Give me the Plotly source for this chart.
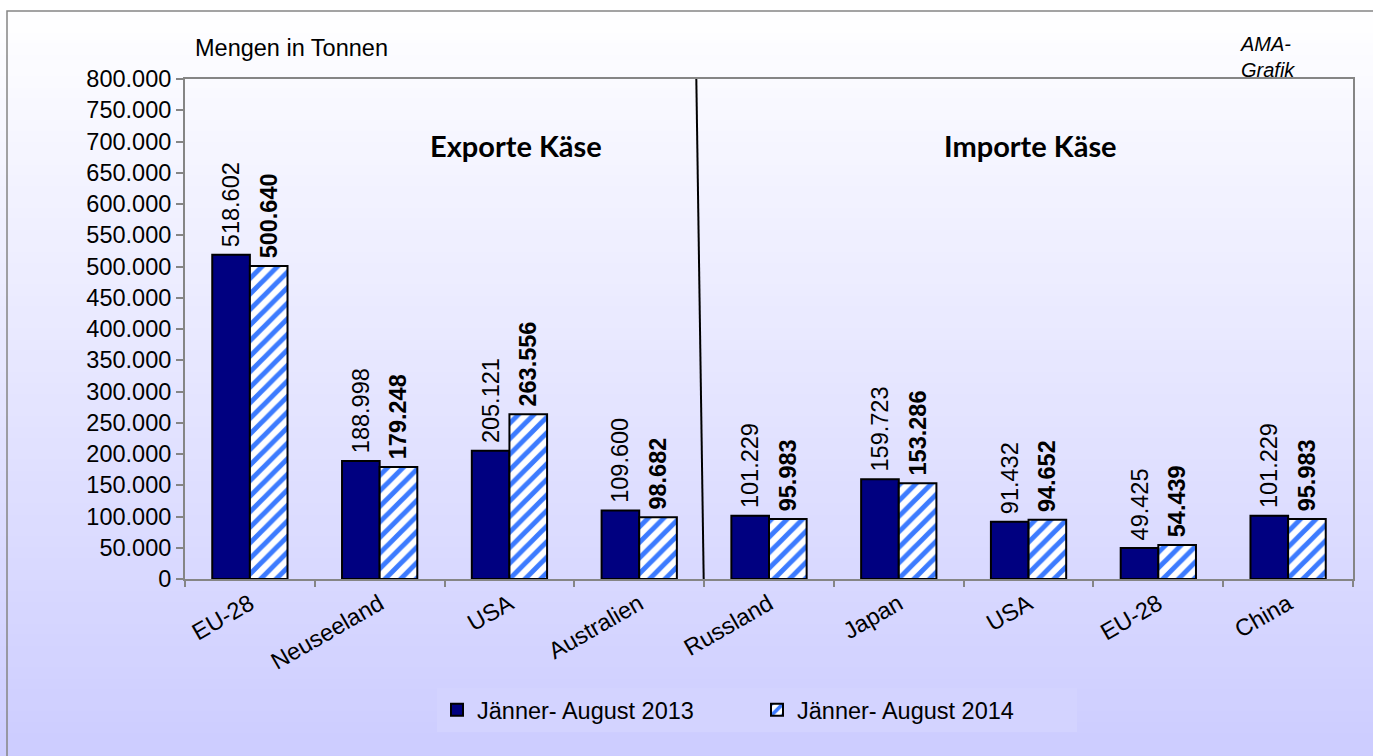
"""
Käse: Exporte / Importe, Jänner-August 2013 vs 2014
"""
import plotly.graph_objects as go

# ── data ────────────────────────────────────────────────
CATS = ["EU-28", "Neuseeland", "USA", "Australien",
        "Russland", "Japan", "USA", "EU-28", "China"]
Y2013 = [518602, 188998, 205121, 109600, 101229, 159723, 91432, 49425, 101229]
Y2014 = [500640, 179248, 263556, 98682, 95983, 153286, 94652, 54439, 95983]
YTICKS = list(range(0, 800001, 50000))
NAME13 = "Jänner- August 2013"
NAME14 = "Jänner- August 2014"

# ── theme ───────────────────────────────────────────────
ARIAL = "Liberation Sans, Arial, sans-serif"
FS = 23.5
NAVY = "#000080"
STRIPE = "#3C7BFF"
GRAY = "#858585"
W, H = 1373, 756
PX0, PX1, PY0, PY1 = 185, 1353, 79, 579   # plot area in pixels
L, T, R, B = PX0, PY0, W - PX1, H - PY1
PW, PH = PX1 - PX0, PY1 - PY0


def px_x(p):   # pixel -> paper
    return (p - PX0) / PW


def px_y(p):
    return (PY1 - p) / PH


def de(v):     # 518602 -> "518.602"
    return f"{v:,}".replace(",", ".")


xs = list(range(len(CATS)))
GAP = "\u2009"   # a bit of air between bar top and rotated label

fig = go.Figure()
fig.add_trace(go.Bar(
    x=xs, y=Y2013, name=NAME13,
    marker=dict(color=NAVY, line=dict(color="black", width=2)),
    text=[GAP + de(v) for v in Y2013], textposition="outside", textangle=-90,
    textfont=dict(family=ARIAL, size=FS, color="black"),
    cliponaxis=False, constraintext="none",
))
fig.add_trace(go.Bar(
    x=xs, y=Y2014, name=NAME14,
    marker=dict(color="white", line=dict(color="black", width=2),
                pattern=dict(shape="/", fgcolor=STRIPE, bgcolor="white",
                             size=11, solidity=0.45, fillmode="replace")),
    text=[f"{GAP}<b>{de(v)}</b>" for v in Y2014], textposition="outside", textangle=-90,
    textfont=dict(family=ARIAL, size=FS, color="black"),
    cliponaxis=False, constraintext="none",
))

# ── background gradient (white -> lavender) + frame ─────
N = 70
for i in range(N):
    f = i / (N - 1)
    c = round(255 - 51 * f)
    fig.add_shape(type="rect", xref="paper", yref="paper",
                  x0=px_x(0), x1=px_x(W + 20),
                  y0=px_y((i + 1) * (H + 10) / N + 1), y1=px_y(i * (H + 10) / N),
                  fillcolor=f"rgb({c},{c},255)", line_width=0, layer="below")

fig.add_shape(type="rect", xref="paper", yref="paper",
              x0=px_x(7), x1=px_x(W + 20), y0=px_y(H + 20), y1=px_y(11),
              line=dict(color=GRAY, width=1.5), layer="below")

# divider between exports and imports
fig.add_shape(type="line", xref="x", yref="y",
              x0=3.44, y0=800000, x1=3.5, y1=-46000,
              line=dict(color="black", width=2))

# ── annotations ─────────────────────────────────────────
fig.add_annotation(text="Mengen in Tonnen", xref="paper", yref="paper",
                   x=px_x(193), y=px_y(48), xanchor="left", yanchor="middle",
                   showarrow=False, font=dict(family=ARIAL, size=FS, color="black"))
fig.add_annotation(text="<i>AMA-<br>Grafik</i>", xref="paper", yref="paper",
                   x=px_x(1238), y=px_y(57), xanchor="left", yanchor="middle",
                   align="left", showarrow=False,
                   font=dict(family=ARIAL, size=20, color="black"))
for label, cx in [("Exporte Käse", 516), ("Importe Käse", 1030)]:
    fig.add_annotation(text=f"<b>{label}</b>", xref="paper", yref="paper",
                       x=px_x(cx), y=px_y(145), xanchor="center", yanchor="middle",
                       showarrow=False, font=dict(family="Lato, sans-serif", size=29, color="black"))

# ── axes & layout ───────────────────────────────────────
fig.update_xaxes(
    range=[-0.5, len(CATS) - 0.5], tickmode="array", tickvals=xs, ticktext=CATS,
    tickangle=-30, ticks="", showline=True, linecolor=GRAY, linewidth=2, mirror=True,
    showgrid=False, zeroline=False,
    tickfont=dict(family=ARIAL, size=FS, color="black"),
    minor=dict(tick0=-0.5, dtick=1, ticks="outside", ticklen=6, tickcolor=GRAY, tickwidth=2),
)
fig.update_yaxes(
    range=[0, 800000], tickmode="array", tickvals=YTICKS,
    ticktext=[de(v) for v in YTICKS],
    ticks="outside", ticklen=7, tickcolor=GRAY, tickwidth=2,
    showline=True, linecolor=GRAY, linewidth=2, mirror=True,
    showgrid=False, zeroline=False,
    tickfont=dict(family=ARIAL, size=FS, color="black"),
)

fig.update_layout(
    width=W, height=H, barmode="group", bargap=0.42, bargroupgap=0,
    margin=dict(l=L, r=R, t=T, b=B, autoexpand=False),
    paper_bgcolor="#CCCCFF", plot_bgcolor="rgba(0,0,0,0)",
    font=dict(family=ARIAL, color="black"),
    legend=dict(orientation="h", x=px_x(437), y=px_y(710),
                xanchor="left", yanchor="middle",
                bgcolor="#D3D3FF", borderwidth=0,
                entrywidth=275, entrywidthmode="pixels",
                font=dict(family=ARIAL, size=FS, color="black")),
    showlegend=True,
)

# figure fills the whole window: drop the default body margin
fig.write_html("out.html", config={"displayModeBar": False},
               post_script="document.body.style.margin='0';"
                           "document.body.style.overflow='hidden';")
